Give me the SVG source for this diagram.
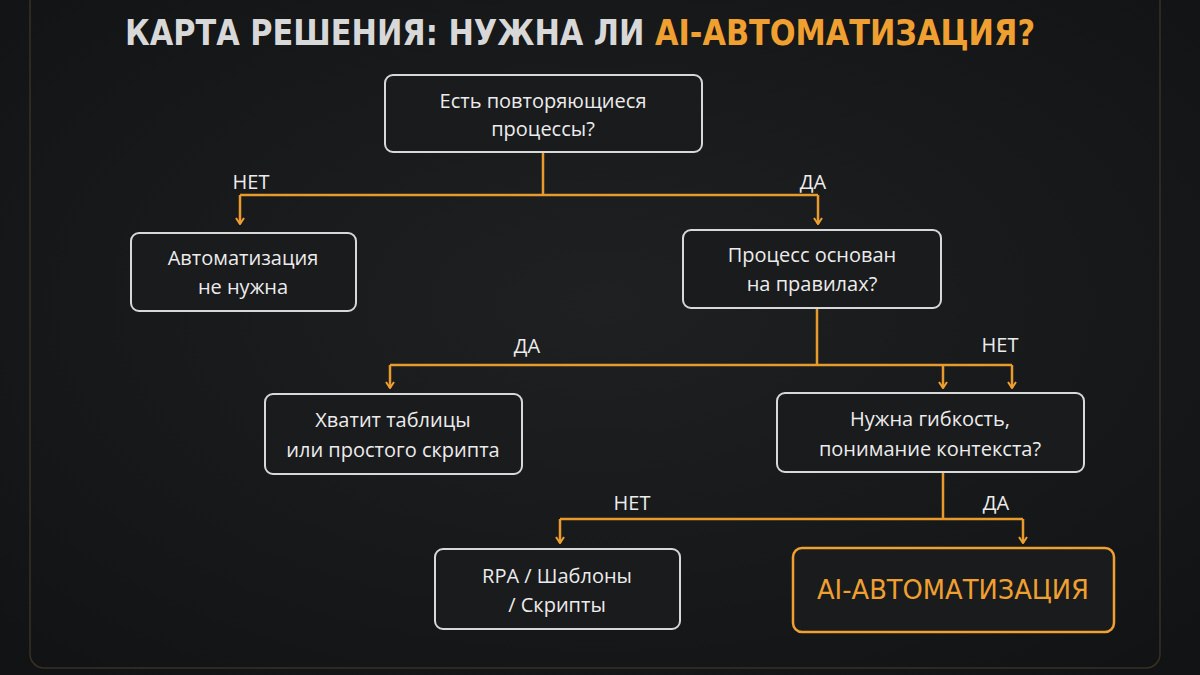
<svg xmlns="http://www.w3.org/2000/svg" width="1200" height="675" viewBox="0 0 1200 675">
<defs>
<marker id="ar" viewBox="0 0 10 10" refX="9" refY="5" markerWidth="10" markerHeight="10" markerUnits="userSpaceOnUse" orient="auto">
<path d="M3,1 L9,5 L3,9" fill="none" stroke="#f0a030" stroke-width="2"/>
</marker>
<radialGradient id="bg" cx="50%" cy="45%" r="70%"><stop offset="0" stop-color="#1e2022"/><stop offset="1" stop-color="#121314"/></radialGradient>
</defs>
<style>
.n{fill:#1a1b1c;stroke:#d8d8d8;stroke-width:2}
.t{font-family:"Open Sans","DejaVu Sans",sans-serif;font-size:20px;fill:#ececec;text-anchor:middle}
.l{font-family:"Open Sans","DejaVu Sans",sans-serif;font-size:20px;fill:#ececec;text-anchor:middle}
.c{fill:none;stroke:#e89a2c;stroke-width:2.5}
</style>
<rect width="1200" height="675" fill="url(#bg)"/>
<rect x="30" y="-20" width="1130" height="688" rx="14" fill="none" stroke="#3a3024" stroke-width="1.5"/>
<text x="580" y="45" font-family="'DejaVu Sans Condensed','DejaVu Sans',sans-serif" font-size="36" font-weight="bold" text-anchor="middle" textLength="910" lengthAdjust="spacingAndGlyphs" fill="#d8d8d8">КАРТА РЕШЕНИЯ:  НУЖНА ЛИ <tspan fill="#f0a030">AI-АВТОМАТИЗАЦИЯ?</tspan></text>
<g id="connectors">
<path class="c" d="M543,152 V195 M240,195 H818"/>
<path class="c" d="M240,195 V224" marker-end="url(#ar)"/>
<path class="c" d="M818,195 V224" marker-end="url(#ar)"/>
<path class="c" d="M817,308 V365 M390,365 H1012"/>
<path class="c" d="M390,365 V388" marker-end="url(#ar)"/>
<path class="c" d="M943,365 V388" marker-end="url(#ar)"/>
<path class="c" d="M1012,365 V388" marker-end="url(#ar)"/>
<path class="c" d="M943,472 V519 M560,519 H1023"/>
<path class="c" d="M560,519 V543" marker-end="url(#ar)"/>
<path class="c" d="M1023,519 V543" marker-end="url(#ar)"/>
<text class="l" x="251" y="189">НЕТ</text>
<text class="l" x="813" y="189">ДА</text>
<text class="l" x="527" y="353">ДА</text>
<text class="l" x="1000" y="352">НЕТ</text>
<text class="l" x="632" y="510">НЕТ</text>
<text class="l" x="996" y="510">ДА</text>
</g>
<g id="n1"><rect class="n" x="385" y="75" width="317" height="77" rx="8"/><text class="t" x="543" y="108">Есть повторяющиеся</text><text class="t" x="543" y="136">процессы?</text></g>
<g id="n2"><rect class="n" x="131" y="233" width="225" height="78" rx="8"/><text class="t" x="243" y="265">Автоматизация</text><text class="t" x="243" y="294">не нужна</text></g>
<g id="n3"><rect class="n" x="683" y="230" width="258" height="78" rx="8"/><text class="t" x="812" y="262">Процесс основан</text><text class="t" x="812" y="291">на правилах?</text></g>
<g id="n4"><rect class="n" x="265" y="394" width="257" height="80" rx="8"/><text class="t" x="393" y="427">Хватит таблицы</text><text class="t" x="393" y="457">или простого скрипта</text></g>
<g id="n5"><rect class="n" x="777" y="393" width="307" height="79" rx="8"/><text class="t" x="930" y="426">Нужна гибкость,</text><text class="t" x="930" y="456">понимание контекста?</text></g>
<g id="n6"><rect class="n" x="435" y="549" width="245" height="80" rx="8"/><text class="t" x="557" y="583">RPA / Шаблоны</text><text class="t" x="557" y="612">/ Скрипты</text></g>
<g id="n7"><rect x="793" y="548" width="321" height="84" rx="9" fill="#1a1b1c" stroke="#f0a030" stroke-width="2.5"/><text x="953" y="599" font-family="'DejaVu Sans Condensed','DejaVu Sans',sans-serif" font-size="27" text-anchor="middle" fill="#f0a030" textLength="272" lengthAdjust="spacingAndGlyphs">AI-АВТОМАТИЗАЦИЯ</text></g>
</svg>
